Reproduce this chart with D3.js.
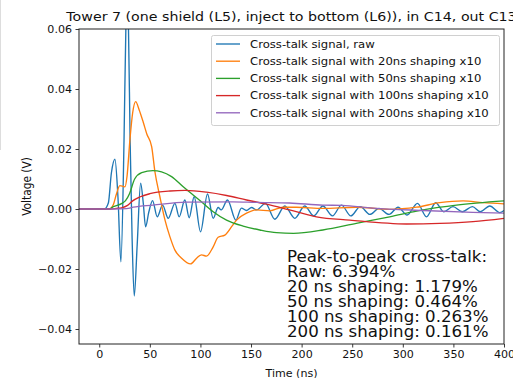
<!DOCTYPE html>
<html>
<head>
<meta charset="utf-8">
<script src="https://cdn.jsdelivr.net/npm/d3@7"></script>
<style>
  html, body { margin: 0; padding: 0; background: #fff; }
  svg { display: block; font-family: "DejaVu Sans", sans-serif; }
</style>
</head>
<body>
<svg id="chart" width="513" height="378"></svg>
<script>
// Cross-talk waveforms: time in ns, voltage in V (shaped signals scaled x10)
const rawT = [-20, 5, 9, 12, 15.5, 18.5, 21.4, 24.5, 26.3, 27.6, 28.9, 30.5, 32.5, 34.6, 37.5, 40.9, 43.5, 45.8, 49, 52.7, 57.3, 62.6, 68.2, 74.8, 79, 84.6, 88.9, 93.8, 100.1, 107, 112.6, 117.5, 120.5, 126.8, 135, 140.5, 145.5, 150.5, 155.5, 164.3, 173.5, 183.4, 193.3, 203, 212, 221, 230.5, 239.4, 248.6, 258, 267.4, 276.5, 286.4, 295.3, 304.2, 314.5, 323.4, 332.5, 340.4, 349.6, 358.9, 368.8, 376.7, 385.9, 395.8, 400];
const rawV = [0, 0, 0.002, 0.012, 0.0166, 0.004, -0.0176, 0.023, 0.06, 0.068, 0.06, 0.023, -0.01, -0.029, -0.012, 0.0086, 0.002, -0.0059, -0.001, 0.0028, -0.0026, 0.0013, -0.0031, 0.0019, -0.0026, 0.003, -0.0029, 0.0041, -0.0076, 0.005, -0.0031, 0.0005, -0.0003, 0.003, -0.0037, 0.0003, -0.0005, 0.0005, -0.0003, 0.0019, -0.0034, 0.001, -0.0031, 0.001, -0.0023, 0.001, -0.0023, 0.0013, -0.0023, 0.0008, -0.0018, 0.0002, -0.0018, 0.0006, -0.002, 0.0019, -0.0026, 0.0021, -0.0009, 0.0008, -0.0009, 0.0008, -0.0009, 0.001, -0.0012, -0.0005];

const s20T = [-20, 10, 14, 17, 20.4, 25.4, 27.5, 30.3, 33, 36, 39.5, 43.5, 47, 51.8, 55, 60, 65, 69.8, 74.8, 81.4, 90.3, 96.2, 101.1, 106, 112.6, 117.5, 124.1, 130.8, 135.7, 145.6, 155.5, 168.6, 181.7, 195, 221, 254, 287, 313.5, 336.5, 359.5, 379, 400];
const s20V = [0, 0, 0.0015, 0.005, 0.0078, 0.0074, 0.011, 0.023, 0.032, 0.0358, 0.033, 0.0289, 0.025, 0.0208, 0.0125, 0.004, -0.0037, -0.0092, -0.0137, -0.0164, -0.0183, -0.0164, -0.0153, -0.0157, -0.0126, -0.0094, -0.0087, -0.0059, -0.0037, -0.0014, -0.0003, -0.0006, 0.0006, 0.0006, 0.0002, 0.0006, -0.0001, 0.0006, 0.0021, 0.0027, 0.0021, 0.0017];

const s50T = [-20, 10, 14, 22, 26, 30, 35, 42, 53, 61.6, 71.5, 83, 92.8, 102.7, 112.6, 125.8, 142.2, 158.7, 175.2, 192, 221, 254, 287, 320, 353, 400];
const s50V = [0, 0, 0.0008, 0.0018, 0.0028, 0.0052, 0.01, 0.0121, 0.0128, 0.0124, 0.0108, 0.0074, 0.0047, 0.0019, -0.0009, -0.0037, -0.0057, -0.007, -0.0079, -0.0081, -0.007, -0.0048, -0.0026, -0.0003, 0.0013, 0.0027];

const s100T = [-20, 12, 17, 22, 28, 33, 40, 50, 70, 85, 106, 125.8, 145.6, 165.3, 188, 214.7, 247.6, 303.6, 336.5, 369.4, 400];
const s100V = [0, 0, 0.0002, 0.0004, 0.0012, 0.0027, 0.004, 0.0051, 0.006, 0.0062, 0.0056, 0.0045, 0.003, 0.0016, -0.0003, -0.0026, -0.0037, -0.005, -0.0048, -0.0042, -0.0031];

const s200T = [-20, 15, 27, 33.6, 53, 86, 132, 155, 188, 221, 240, 270, 320, 369, 400];
const s200V = [0, 0, 0.0001, 0.0006, 0.0013, 0.0023, 0.0024, 0.0022, 0.002, 0.0013, 0.0012, 0.0003, -0.0005, -0.0011, -0.0014];

const seriesNames = [
  "Cross-talk signal, raw",
  "Cross-talk signal with 20ns shaping x10",
  "Cross-talk signal with 50ns shaping x10",
  "Cross-talk signal with 100ns shaping x10",
  "Cross-talk signal with 200ns shaping x10"
];
const seriesColors = ["#1f77b4", "#ff7f0e", "#2ca02c", "#d62728", "#9467bd"];

const xTicks = [0, 50, 100, 150, 200, 250, 300, 350, 400];
const yTicks = [-0.04, -0.02, 0, 0.02, 0.04, 0.06];

const summaryLines = [
  "Peak-to-peak cross-talk:",
  "Raw: 6.394%",
  "20 ns shaping: 1.179%",
  "50 ns shaping: 0.464%",
  "100 ns shaping: 0.263%",
  "200 ns shaping: 0.161%"
];

const titleText = "Tower 7 (one shield (L5), inject to bottom (L6)), in C14, out C13";

// ---- layout ----
const svg = d3.select("#chart");
const plot = { left: 79, right: 504, top: 29, bottom: 344 };
const stretch = 1.11;   // horizontal text stretch of the figure

const x = d3.scaleLinear().domain([-20, 400]).range([plot.left, plot.right]);
const y = d3.scaleLinear().domain([-0.045, 0.06]).range([plot.bottom, plot.top]);

svg.append("rect").attr("width", 513).attr("height", 378).attr("fill", "#fff");

// thin edge line at the far left
svg.append("line")
  .attr("x1", 0.5).attr("x2", 0.5).attr("y1", 0).attr("y2", 150)
  .attr("stroke", "#ddd").attr("stroke-width", 1);

svg.append("defs").append("clipPath").attr("id", "plotClip")
  .append("rect")
  .attr("x", plot.left).attr("y", plot.top)
  .attr("width", plot.right - plot.left).attr("height", plot.bottom - plot.top);

// ---- lines ----
const seriesData = [
  [rawT, rawV], [s20T, s20V], [s50T, s50V], [s100T, s100V], [s200T, s200V]
].map(([ts, vs]) => ts.map((t, i) => ({ t, v: vs[i] })));

const line = d3.line()
  .x(d => x(d.t))
  .y(d => y(d.v))
  .curve(d3.curveMonotoneX);

const lines = svg.append("g").attr("clip-path", "url(#plotClip)");
seriesData.forEach((data, i) => {
  lines.append("path")
    .datum(data)
    .attr("d", line)
    .attr("fill", "none")
    .attr("stroke", seriesColors[i])
    .attr("stroke-width", 1.35)
    .attr("stroke-linejoin", "round");
});

// ---- axes ----
const axisColor = "#222";
const xAxis = d3.axisBottom(x).tickValues(xTicks).tickSize(3.5).tickPadding(3.5)
  .tickFormat(d3.format("d"));
const yAxis = d3.axisLeft(y).tickValues(yTicks).tickSize(3.5).tickPadding(3.5)
  .tickFormat(d3.format(".2f"));

const gx = svg.append("g").attr("transform", `translate(0,${plot.bottom})`).call(xAxis);
const gy = svg.append("g").attr("transform", `translate(${plot.left},0)`).call(yAxis);
[gx, gy].forEach(g => {
  g.select(".domain").remove();
  g.selectAll(".tick line").attr("stroke", axisColor).attr("stroke-width", 0.9);
  g.selectAll(".tick text").attr("fill", "#111")
    .style("font-family", "'DejaVu Sans', sans-serif").style("font-size", "10px");
});
gx.selectAll(".tick text").attr("transform", `scale(${stretch},1)`);
gy.selectAll(".tick text").attr("x", -7 / stretch).attr("transform", `scale(${stretch},1)`);

// frame
svg.append("rect")
  .attr("x", plot.left).attr("y", plot.top)
  .attr("width", plot.right - plot.left).attr("height", plot.bottom - plot.top)
  .attr("fill", "none").attr("stroke", axisColor).attr("stroke-width", 1);

// text helper: horizontally stretched label anchored at (px, py)
function label(px, py, str, size, anchor) {
  return svg.append("g").attr("transform", `translate(${px},${py}) scale(${stretch},1)`)
    .append("text")
    .attr("text-anchor", anchor || "start")
    .attr("font-size", size).attr("fill", "#111")
    .text(str);
}

// ---- titles ----
label((plot.left + plot.right) / 2, 21, titleText, 12.8, "middle");
label((plot.left + plot.right) / 2, 377, "Time (ns)", 10, "middle");

svg.append("g")
  .attr("transform", `translate(31,${(plot.top + plot.bottom) / 2}) scale(${stretch},1) rotate(-90)`)
  .append("text")
  .attr("text-anchor", "middle")
  .attr("font-size", 10.6).attr("fill", "#111")
  .text("Voltage (V)");

// ---- legend ----
const lg = { x: 211, y: 35, w: 288, h: 90 };
svg.append("rect")
  .attr("x", lg.x + 0.5).attr("y", lg.y + 0.5).attr("width", lg.w).attr("height", lg.h)
  .attr("rx", 2).attr("fill", "#fff").attr("fill-opacity", 0.8)
  .attr("stroke", "#d0d0d0").attr("stroke-width", 1);
seriesNames.forEach((name, i) => {
  const cy = 44 + i * 17.2;
  svg.append("line")
    .attr("x1", 216).attr("x2", 240).attr("y1", cy).attr("y2", cy)
    .attr("stroke", seriesColors[i]).attr("stroke-width", 1.35);
  label(250, cy + 3.8, name, 10.5);
});

// ---- peak-to-peak summary ----
const summary = svg.append("g").attr("transform", `translate(287,262) scale(${stretch},1)`)
  .append("text")
  .attr("font-size", 15).attr("fill", "#111");
summaryLines.forEach((s, i) => {
  summary.append("tspan").attr("x", 0).attr("y", i * 15).text(s);
});
</script>
</body>
</html>
